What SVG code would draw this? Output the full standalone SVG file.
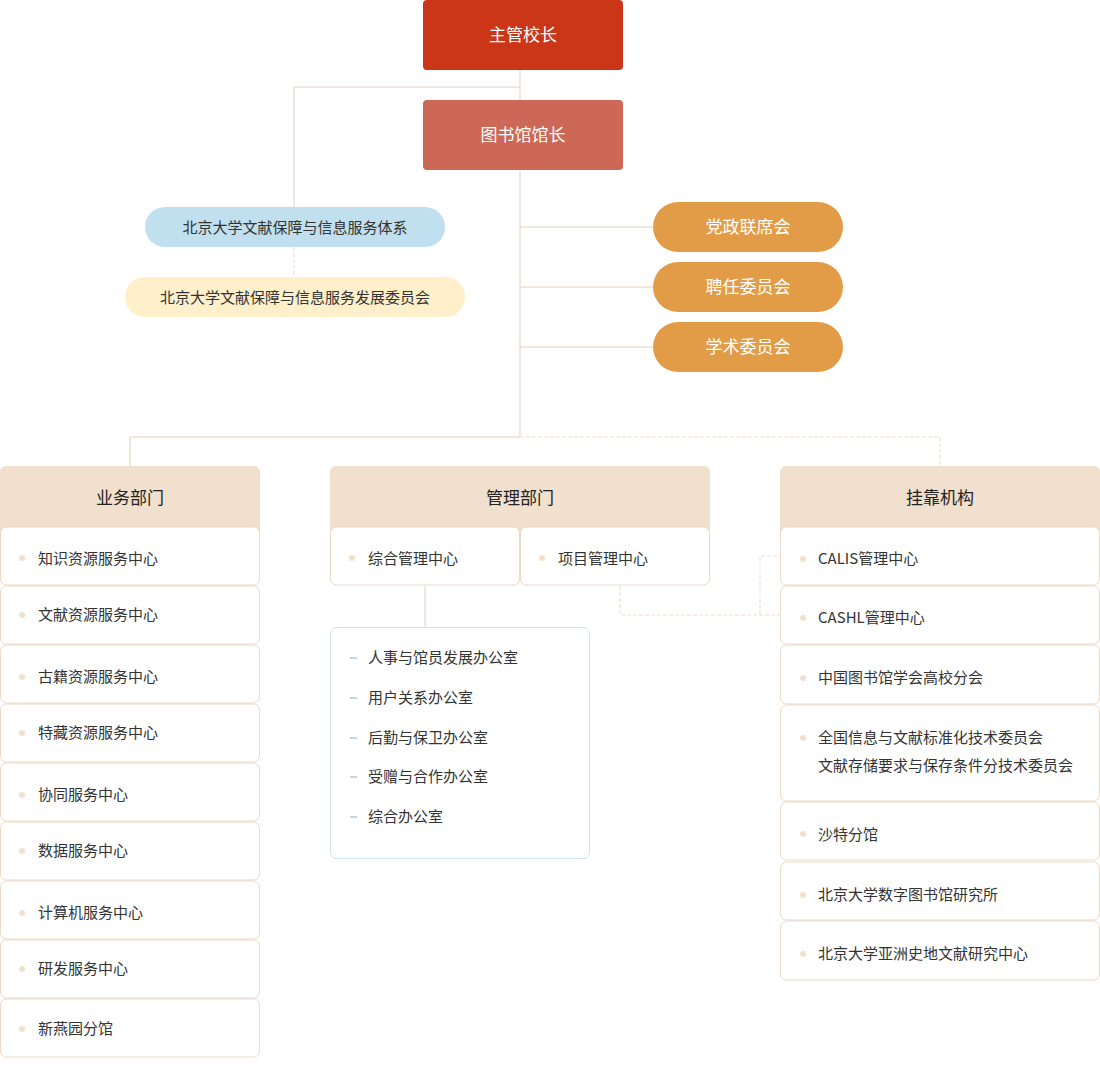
<svg xmlns="http://www.w3.org/2000/svg" width="1100" height="1088" viewBox="0 0 1100 1088">
<style>
text{font-family:"Noto Sans CJK SC","Liberation Sans",sans-serif;}
.ln{stroke:#efe0cf;stroke-width:1.5;fill:none}
.ds{stroke:#efe0cf;stroke-width:1.2;fill:none;stroke-dasharray:4 2}
.hd{fill:#f0e0cd}
.it{fill:#fff;stroke:#ead9c6;stroke-width:1}
.t{font-size:15px;fill:#333}
.h{font-size:17px;fill:#222;text-anchor:middle}
.w{font-size:17px;fill:#fff;text-anchor:middle}
.dot{fill:#f0e0cd}
.dash{stroke:#a9cce0;stroke-width:1.5}
</style>
<g id="connectors">
<path class="ln" d="M520 70V437M294 87H520M294 87V247M520 227H653M520 287H653M520 347H653M130 437H520M130 437V466M425 586V627"/>
<path class="ds" d="M294 247V277M520 437H940V466M620 586V615H780M760 615V556H780"/>
</g>
<g id="n-principal"><rect x="423" y="0" width="200" height="70" rx="4" fill="#cb3619"/><text class="w" x="523" y="41">主管校长</text></g>
<g id="n-director"><rect x="423" y="100" width="200" height="70" rx="4" fill="#cc6855"/><text class="w" x="523" y="141">图书馆馆长</text></g>
<g id="n-sys"><rect x="145" y="207" width="300" height="40" rx="20" fill="#c1e0ef"/><text x="295" y="233" class="t" text-anchor="middle" fill="#222">北京大学文献保障与信息服务体系</text></g>
<g id="n-dev"><rect x="125" y="277" width="340" height="40" rx="20" fill="#fff0cb"/><text x="295" y="303" class="t" text-anchor="middle" fill="#222">北京大学文献保障与信息服务发展委员会</text></g>
<g id="n-c1"><rect x="653" y="202" width="190" height="50" rx="25" fill="#e29c47"/><text class="w" x="748" y="233">党政联席会</text></g>
<g id="n-c2"><rect x="653" y="262" width="190" height="50" rx="25" fill="#e29c47"/><text class="w" x="748" y="293">聘任委员会</text></g>
<g id="n-c3"><rect x="653" y="322" width="190" height="50" rx="25" fill="#e29c47"/><text class="w" x="748" y="353">学术委员会</text></g>
<g id="n-biz">
<rect class="hd" x="0" y="466" width="260" height="70" rx="6"/><text class="h" x="130" y="504">业务部门</text>
<rect class="it" x="0.5" y="527" width="259" height="58" rx="6"/><circle class="dot" cx="22" cy="558" r="3"/><text class="t" x="38" y="564">知识资源服务中心</text>
<rect class="it" x="0.5" y="586" width="259" height="58" rx="6"/><circle class="dot" cx="22" cy="615" r="3"/><text class="t" x="38" y="620">文献资源服务中心</text>
<rect class="it" x="0.5" y="645" width="259" height="58" rx="6"/><circle class="dot" cx="22" cy="677" r="3"/><text class="t" x="38" y="682">古籍资源服务中心</text>
<rect class="it" x="0.5" y="704" width="259" height="58" rx="6"/><circle class="dot" cx="22" cy="733" r="3"/><text class="t" x="38" y="738">特藏资源服务中心</text>
<rect class="it" x="0.5" y="763" width="259" height="58" rx="6"/><circle class="dot" cx="22" cy="795" r="3"/><text class="t" x="38" y="800">协同服务中心</text>
<rect class="it" x="0.5" y="822" width="259" height="58" rx="6"/><circle class="dot" cx="22" cy="851" r="3"/><text class="t" x="38" y="856">数据服务中心</text>
<rect class="it" x="0.5" y="881" width="259" height="58" rx="6"/><circle class="dot" cx="22" cy="913" r="3"/><text class="t" x="38" y="918">计算机服务中心</text>
<rect class="it" x="0.5" y="940" width="259" height="58" rx="6"/><circle class="dot" cx="22" cy="969" r="3"/><text class="t" x="38" y="974">研发服务中心</text>
<rect class="it" x="0.5" y="999" width="259" height="58" rx="6"/><circle class="dot" cx="22" cy="1029" r="3"/><text class="t" x="38" y="1034">新燕园分馆</text>
</g>
<g id="n-mgmt">
<rect class="hd" x="330" y="466" width="380" height="70" rx="6"/><text class="h" x="520" y="504">管理部门</text>
<rect class="it" x="330.5" y="527" width="189" height="58" rx="6"/><circle class="dot" cx="352" cy="558" r="3"/><text class="t" x="368" y="564">综合管理中心</text>
<rect class="it" x="520.5" y="527" width="189" height="58" rx="6"/><circle class="dot" cx="542" cy="558" r="3"/><text class="t" x="558" y="564">项目管理中心</text>
<rect x="330.5" y="627.5" width="259" height="231" rx="6" fill="#fff" stroke="#cfe3ec"/>
<path class="dash" d="M350 658h7M350 698h7M350 738h7M350 777h7M350 817h7"/>
<text class="t" x="368" y="663">人事与馆员发展办公室</text>
<text class="t" x="368" y="703">用户关系办公室</text>
<text class="t" x="368" y="743">后勤与保卫办公室</text>
<text class="t" x="368" y="782">受赠与合作办公室</text>
<text class="t" x="368" y="822">综合办公室</text>
</g>
<g id="n-aff">
<rect class="hd" x="780" y="466" width="320" height="70" rx="6"/><text class="h" x="940" y="504">挂靠机构</text>
<rect class="it" x="780.5" y="527" width="319" height="58" rx="6"/><circle class="dot" cx="803" cy="559" r="3"/><text class="t" x="818" y="564">CALIS管理中心</text>
<rect class="it" x="780.5" y="586" width="319" height="58" rx="6"/><circle class="dot" cx="803" cy="618" r="3"/><text class="t" x="818" y="623">CASHL管理中心</text>
<rect class="it" x="780.5" y="645" width="319" height="59" rx="6"/><circle class="dot" cx="803" cy="678" r="3"/><text class="t" x="818" y="683">中国图书馆学会高校分会</text>
<rect class="it" x="780.5" y="705" width="319" height="96" rx="6"/><circle class="dot" cx="803" cy="738" r="3"/><text class="t" x="818" y="743">全国信息与文献标准化技术委员会</text><text class="t" x="818" y="771">文献存储要求与保存条件分技术委员会</text>
<rect class="it" x="780.5" y="802" width="319" height="58" rx="6"/><circle class="dot" cx="803" cy="834" r="3"/><text class="t" x="818" y="840">沙特分馆</text>
<rect class="it" x="780.5" y="862" width="319" height="58" rx="6"/><circle class="dot" cx="803" cy="895" r="3"/><text class="t" x="818" y="900">北京大学数字图书馆研究所</text>
<rect class="it" x="780.5" y="921" width="319" height="59" rx="6"/><circle class="dot" cx="803" cy="954" r="3"/><text class="t" x="818" y="959">北京大学亚洲史地文献研究中心</text>
</g>
</svg>
